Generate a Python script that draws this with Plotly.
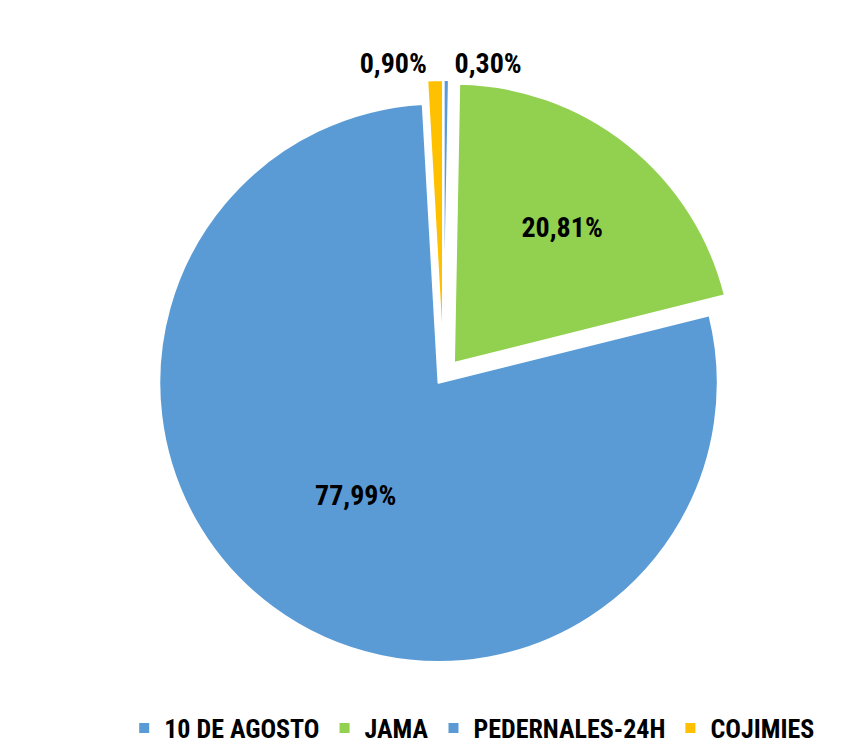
import plotly.graph_objects as go

labels = ["10 DE AGOSTO", "JAMA", "PEDERNALES-24H", "COJIMIES"]
values = [0.30, 20.81, 77.99, 0.90]
colors = ["#5B9BD5", "#92D050", "#5B9BD5", "#FFC000"]
text_pos = ["outside", "inside", "inside", "outside"]

FONT = "Liberation Sans Narrow, Arial Narrow, Roboto Condensed, Liberation Sans, Arial, sans-serif"

fig = go.Figure(go.Pie(
    labels=labels,
    values=values,
    sort=False,
    direction="clockwise",
    rotation=0,
    pull=[0.06, 0.06, 0.03, 0.06],
    marker=dict(colors=colors, line=dict(color="white", width=2)),
    texttemplate="%{percent:.2%}",
    textposition=text_pos,
    insidetextorientation="horizontal",
    textfont=dict(family=FONT, size=28, color="black", weight="bold"),
    outsidetextfont=dict(family=FONT, size=28, color="black", weight="bold"),
    insidetextfont=dict(family=FONT, size=28, color="black", weight="bold"),
    hoverinfo="label+percent",
    domain=dict(x=[0, 1], y=[0, 1]),
))

fig.update_layout(
    width=868, height=744,
    separators=",.",
    paper_bgcolor="white",
    plot_bgcolor="white",
    margin=dict(l=0, r=0, t=45, b=75),
    legend=dict(
        orientation="h",
        x=0.54, xanchor="center",
        y=-0.055, yanchor="top",
        font=dict(family=FONT, size=26, color="black", weight="bold"),
        itemsizing="constant",
        traceorder="normal",
        itemwidth=30,
    ),
    showlegend=True,
)

fig.write_html("out.html")
